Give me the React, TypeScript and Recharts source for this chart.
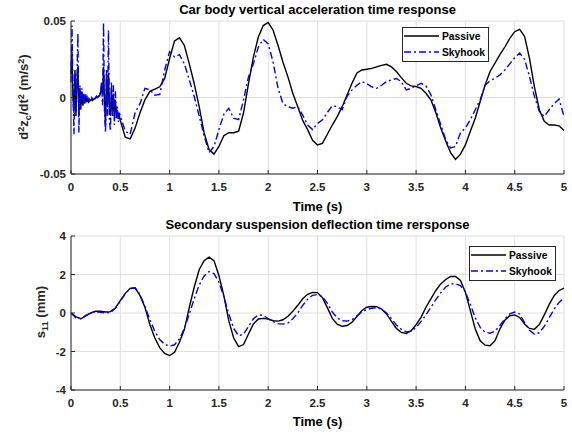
// Two stacked MATLAB-style panels: car body acceleration and secondary
// suspension deflection, passive vs skyhook damping.

import { LineChart, Line, XAxis, YAxis, CartesianGrid } from "recharts";
import type { ReactNode } from "react";

const FONT = '"Liberation Sans", Arial, Helvetica, sans-serif';
const INK = "#262626";
const GRID = "#e0e0e0";
const PASSIVE = "#000000";
const SKYHOOK = "#0000ff";
const DASHDOT = "7 3 2 3";

const timeTicks = [0, 0.5, 1, 1.5, 2, 2.5, 3, 3.5, 4, 4.5, 5];
const accTicks = [-0.05, 0, 0.05];
const defTicks = [-4, -2, 0, 2, 4];

// acceleration: dense samples over the noisy start, then 0.05 s steps
const accTime = [
    0, 0.01, 0.02, 0.03, 0.04, 0.05, 0.06, 0.07, 0.08, 0.09,
    0.1, 0.11, 0.12, 0.13, 0.14, 0.15, 0.16, 0.17, 0.18, 0.19,
    0.2, 0.21, 0.22, 0.23, 0.24, 0.25, 0.26, 0.27, 0.28, 0.29,
    0.3, 0.31, 0.32, 0.33, 0.34, 0.35, 0.36, 0.37, 0.38, 0.39,
    0.4, 0.41, 0.42, 0.43, 0.44, 0.45, 0.46, 0.47, 0.48, 0.49,
    0.5, 0.55, 0.6, 0.65, 0.7, 0.75, 0.8, 0.85, 0.9, 0.95,
    1, 1.05, 1.1, 1.15, 1.2, 1.25, 1.3, 1.35, 1.4, 1.45,
    1.5, 1.55, 1.6, 1.65, 1.7, 1.75, 1.8, 1.85, 1.9, 1.95,
    2, 2.05, 2.1, 2.15, 2.2, 2.25, 2.3, 2.35, 2.4, 2.45,
    2.5, 2.55, 2.6, 2.65, 2.7, 2.75, 2.8, 2.85, 2.9, 2.95,
    3, 3.05, 3.1, 3.15, 3.2, 3.25, 3.3, 3.35, 3.4, 3.45,
    3.5, 3.55, 3.6, 3.65, 3.7, 3.75, 3.8, 3.85, 3.9, 3.95,
    4, 4.05, 4.1, 4.15, 4.2, 4.25, 4.3, 4.35, 4.4, 4.45,
    4.5, 4.55, 4.6, 4.65, 4.7, 4.75, 4.8, 4.85, 4.9, 4.95,
    5,
];
const accPassive = [
    0.015, 0.03, 0, -0.01, 0.018, -0.012, 0.01, 0.02, -0.012, 0.006,
    -0.006, 0.004, -0.005, 0.002, -0.004, 0.001, -0.003, -0.001, -0.003, -0.002,
    -0.002, -0.001, -0.002, -0.001, -0.001, 0, 0, 0, 0.001, 0.001,
    0.003, 0.008, 0.002, 0.02, -0.004, -0.018, 0.015, -0.006, 0.016, -0.008,
    -0.012, 0.006, -0.01, 0.002, -0.012, -0.002, -0.012, -0.008, -0.014, -0.012,
    -0.015, -0.026, -0.027, -0.02, -0.01, -0.0015, 0.004, 0.0055, 0.007, 0.0125,
    0.0255, 0.037, 0.039, 0.034, 0.022, 0.009, -0.006, -0.023, -0.034, -0.037,
    -0.032, -0.025, -0.023, -0.023, -0.022, -0.01, 0.009, 0.0265, 0.0395, 0.047,
    0.049, 0.044, 0.034, 0.023, 0.0135, 0.0026, -0.006, -0.015, -0.021, -0.028,
    -0.031, -0.03, -0.024, -0.018, -0.0125, -0.006, 0.0017, 0.0093, 0.016, 0.018,
    0.0185, 0.019, 0.02, 0.021, 0.0217, 0.02, 0.017, 0.013, 0.0093, 0.0076,
    0.0072, 0.006, 0.0028, -0.0015, -0.01, -0.02, -0.0285, -0.036, -0.0405, -0.037,
    -0.031, -0.022, -0.0135, -0.0026, 0.0082, 0.017, 0.0224, 0.028, 0.033, 0.0386,
    0.043, 0.0445, 0.04, 0.0256, 0.007, -0.008, -0.0156, -0.018, -0.018, -0.0185,
    -0.0215,
];
const accSkyhook = [
    0.01, 0.047, 0.005, -0.024, 0.015, -0.01, 0.012, 0.042, -0.023, 0.008,
    -0.008, 0.006, -0.006, 0.003, -0.004, 0.002, -0.003, 0, -0.002, -0.001,
    -0.002, 0, -0.001, 0, -0.001, 0, 0.001, 0, 0.001, 0.002,
    0.004, 0.01, -0.005, 0.049, -0.01, -0.023, 0.018, -0.012, 0.044, -0.015,
    -0.022, 0.01, -0.012, 0.008, -0.018, 0.004, -0.014, -0.006, -0.016, -0.01,
    -0.012, -0.022, -0.024, -0.01, -0.004, 0.006, 0.005, 0.0015, 0.002, 0.018,
    0.03, 0.0265, 0.028, 0.022, 0.0115, 0.0005, -0.012, -0.025, -0.036, -0.032,
    -0.021, -0.011, -0.007, -0.0135, -0.0145, -0.0015, 0.0135, 0.022, 0.033, 0.038,
    0.035, 0.023, 0.006, -0.004, -0.006, -0.007, -0.006, -0.0115, -0.018, -0.021,
    -0.017, -0.0145, -0.0098, -0.0054, -0.006, -0.008, 0.0007, 0.005, 0.008, 0.0104,
    0.009, 0.007, 0.006, 0.008, 0.0104, 0.0115, 0.0124, 0.0104, 0.005, 0.006,
    0.0076, 0.0093, 0.0076, 0.0017, -0.008, -0.0178, -0.0276, -0.033, -0.032, -0.023,
    -0.02, -0.0145, -0.008, -0.0015, 0.008, 0.011, 0.0126, 0.0148, 0.018, 0.022,
    0.026, 0.029, 0.025, 0.0137, 0.0007, -0.009, -0.0124, -0.008, -0.004, -0.001,
    -0.0124,
];

// deflection (mm), 0.05 s steps
const defTime = [
    0, 0.05, 0.1, 0.15, 0.2, 0.25, 0.3, 0.35, 0.4, 0.45,
    0.5, 0.55, 0.6, 0.65, 0.7, 0.75, 0.8, 0.85, 0.9, 0.95,
    1, 1.05, 1.1, 1.15, 1.2, 1.25, 1.3, 1.35, 1.4, 1.45,
    1.5, 1.55, 1.6, 1.65, 1.7, 1.75, 1.8, 1.85, 1.9, 1.95,
    2, 2.05, 2.1, 2.15, 2.2, 2.25, 2.3, 2.35, 2.4, 2.45,
    2.5, 2.55, 2.6, 2.65, 2.7, 2.75, 2.8, 2.85, 2.9, 2.95,
    3, 3.05, 3.1, 3.15, 3.2, 3.25, 3.3, 3.35, 3.4, 3.45,
    3.5, 3.55, 3.6, 3.65, 3.7, 3.75, 3.8, 3.85, 3.9, 3.95,
    4, 4.05, 4.1, 4.15, 4.2, 4.25, 4.3, 4.35, 4.4, 4.45,
    4.5, 4.55, 4.6, 4.65, 4.7, 4.75, 4.8, 4.85, 4.9, 4.95,
    5,
];
const defPassive = [
    0, -0.2, -0.3, -0.15, 0, 0.09, 0.09, 0.05, 0.07, 0.26,
    0.64, 1.02, 1.28, 1.31, 0.9, 0.3, -0.6, -1.3, -1.8, -2.1,
    -2.21, -2.04, -1.52, -0.85, 0.3, 1.35, 2.25, 2.72, 2.9, 2.72,
    1.95, 0.9, -0.4, -1.3, -1.75, -1.64, -1.09, -0.57, -0.31, -0.28,
    -0.31, -0.4, -0.42, -0.35, -0.17, 0.09, 0.4, 0.74, 0.97, 1.07,
    1.06, 0.8, 0.28, -0.28, -0.58, -0.69, -0.65, -0.48, -0.18, 0.13,
    0.3, 0.34, 0.33, 0.21, -0.05, -0.43, -0.8, -1.01, -1.06, -0.92,
    -0.61, -0.23, 0.3, 0.73, 1.17, 1.51, 1.74, 1.9, 1.9, 1.69,
    1.08, 0.12, -0.83, -1.44, -1.67, -1.7, -1.44, -0.83, -0.37, -0.14,
    -0.1, -0.23, -0.57, -0.8, -0.85, -0.6, -0.1, 0.45, 0.9, 1.17,
    1.29,
];
const defSkyhook = [
    0, -0.25, -0.3, -0.12, 0, 0.06, 0.04, 0, 0.03, 0.25,
    0.62, 1, 1.27, 1.3, 0.95, 0.35, -0.35, -0.95, -1.38, -1.63,
    -1.72, -1.65, -1.35, -0.8, -0.05, 0.75, 1.45, 1.92, 2.15, 2.05,
    1.6, 0.85, -0.05, -0.8, -1.18, -1.1, -0.7, -0.3, -0.1, -0.12,
    -0.3, -0.45, -0.55, -0.58, -0.52, -0.3, 0, 0.4, 0.72, 0.92,
    0.96, 0.85, 0.5, 0.05, -0.25, -0.4, -0.42, -0.35, -0.15, 0.05,
    0.18, 0.25, 0.28, 0.2, 0, -0.3, -0.62, -0.85, -0.98, -0.95,
    -0.75, -0.45, -0.1, 0.3, 0.7, 1.05, 1.35, 1.5, 1.52, 1.42,
    1.1, 0.45, -0.25, -0.75, -1, -1.05, -0.95, -0.65, -0.3, -0.05,
    0.05, -0.05, -0.5, -0.9, -1.1, -1.02, -0.7, -0.25, 0.2, 0.55,
    0.78,
];

const accData = accTime.map((t, i) => ({ t, passive: accPassive[i], skyhook: accSkyhook[i] }));
const defData = defTime.map((t, i) => ({ t, passive: defPassive[i], skyhook: defSkyhook[i] }));

const tickFont = { fill: INK, fontSize: 11.5, fontWeight: 700, fontFamily: FONT };

interface PanelProps {
    data: { t: number; passive: number; skyhook: number }[];
    domain: [number, number];
    yTicks: number[];
    top: number;
    plotHeight: number;
}

function Panel({ data, domain, yTicks, top, plotHeight }: PanelProps) {
    return (
        <div style={{ position: "absolute", left: 0, top }}>
            <LineChart
                width={572}
                height={21 + plotHeight + 20}
                data={data}
                margin={{ top: 21, right: 8, bottom: 0, left: 0 }}
            >
                <CartesianGrid stroke={GRID} strokeWidth={1} />
                <XAxis
                    dataKey="t"
                    type="number"
                    domain={[0, 5]}
                    ticks={timeTicks}
                    interval={0}
                    height={20}
                    tick={tickFont}
                    axisLine={{ stroke: INK }}
                    tickLine={{ stroke: INK }}
                    tickSize={-4}
                    tickMargin={13}
                />
                <XAxis
                    xAxisId="top"
                    orientation="top"
                    dataKey="t"
                    type="number"
                    domain={[0, 5]}
                    ticks={timeTicks}
                    interval={0}
                    height={0}
                    tick={false}
                    axisLine={{ stroke: INK }}
                    tickLine={{ stroke: INK }}
                    tickSize={-4}
                />
                <YAxis
                    type="number"
                    domain={domain}
                    ticks={yTicks}
                    interval={0}
                    width={71}
                    tick={tickFont}
                    axisLine={{ stroke: INK }}
                    tickLine={{ stroke: INK }}
                    tickSize={-4}
                    tickMargin={9}
                />
                <YAxis
                    yAxisId="right"
                    orientation="right"
                    type="number"
                    domain={domain}
                    ticks={yTicks}
                    interval={0}
                    width={0}
                    tick={false}
                    axisLine={{ stroke: INK }}
                    tickLine={{ stroke: INK }}
                    tickSize={-4}
                />
                <Line
                    dataKey="passive"
                    type="linear"
                    stroke={PASSIVE}
                    strokeWidth={1.4}
                    dot={false}
                    activeDot={false}
                    isAnimationActive={false}
                />
                <Line
                    dataKey="skyhook"
                    type="linear"
                    stroke={SKYHOOK}
                    strokeWidth={1.4}
                    strokeDasharray={DASHDOT}
                    dot={false}
                    activeDot={false}
                    isAnimationActive={false}
                />
            </LineChart>
        </div>
    );
}

function Legend({ x, y }: { x: number; y: number }) {
    return (
        <svg style={{ position: "absolute", left: x, top: y }} width={88} height={36}>
            <rect x={0.5} y={0.5} width={86} height={34} fill="#fff" stroke={INK} strokeWidth={1} />
            <line x1={2} x2={37} y1={9} y2={9} stroke={PASSIVE} strokeWidth={1.4} />
            <line x1={2} x2={37} y1={25} y2={25} stroke={SKYHOOK} strokeWidth={1.4} strokeDasharray={DASHDOT} />
            <text x={40} y={12.5} fontSize={10.3} fontWeight={700} fontFamily={FONT} fill="#000">Passive</text>
            <text x={40} y={28.5} fontSize={10.3} fontWeight={700} fontFamily={FONT} fill="#000">Skyhook</text>
        </svg>
    );
}

function Text({ x, y, size = 13, rotate = false, children }: { x: number; y: number; size?: number; rotate?: boolean; children: ReactNode }) {
    return (
        <div
            style={{
                position: "absolute",
                left: x,
                top: y,
                transform: `translate(-50%, -50%)${rotate ? " rotate(-90deg)" : ""}`,
                whiteSpace: "nowrap",
                fontFamily: FONT,
                fontWeight: 700,
                fontSize: size,
                lineHeight: 1,
                color: rotate ? INK : "#000",
            }}
        >
            {children}
        </div>
    );
}

const supStyle = { fontSize: "0.7em", verticalAlign: "0.45em" };
const subStyle = { fontSize: "0.7em", verticalAlign: "-0.25em" };

export default function App() {
    return (
        <div style={{ position: "absolute", left: 0, top: 0, width: 572, height: 434, background: "#fff" }}>
            <Panel data={accData} domain={[-0.05, 0.05]} yTicks={accTicks} top={0} plotHeight={153} />
            <Panel data={defData} domain={[-4, 4]} yTicks={defTicks} top={215} plotHeight={154} />

            <Text x={317.5} y={9}>Car body vertical acceleration time response</Text>
            <Text x={317.5} y={206}>Time (s)</Text>
            <Text x={317.5} y={224}>Secondary suspension deflection time rersponse</Text>
            <Text x={317.5} y={421}>Time (s)</Text>

            <Text x={25} y={97} rotate>
                d<span style={supStyle}>2</span>z<span style={subStyle}>c</span>/dt<span style={supStyle}>2</span> (m/s<span style={supStyle}>2</span>)
            </Text>
            <Text x={42} y={312} rotate>
                s<span style={subStyle}>11</span> (mm)
            </Text>

            <Legend x={402} y={27} />
            <Legend x={469} y={246} />
        </div>
    );
}
